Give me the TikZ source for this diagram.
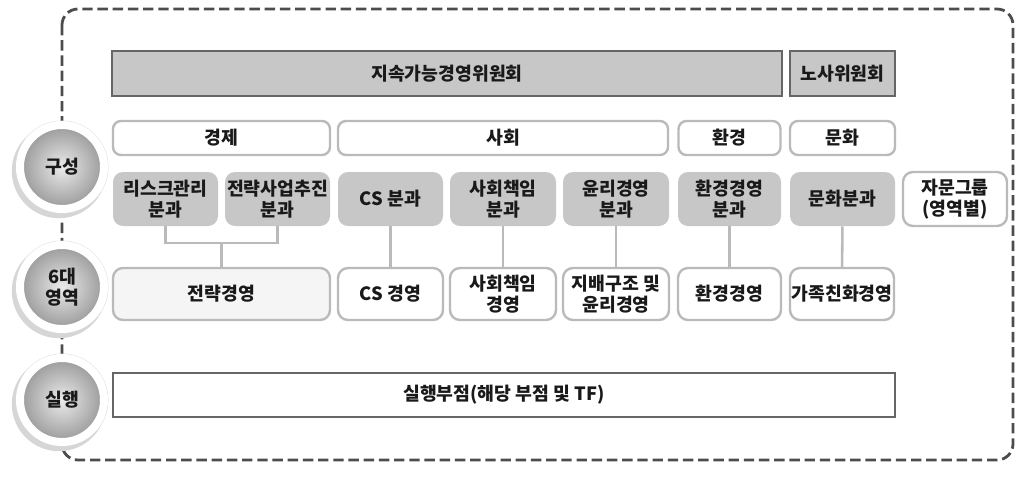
\documentclass[tikz,border=0pt]{standalone}
\usepackage{fontspec}
\setmainfont{Noto Sans CJK KR}
\usetikzlibrary{positioning}
\tikzset{
	wh/.style 2 args={minimum width=#1*0.025cm,minimum height=#2*0.025cm},
	txt/.style={font=\bfseries\fontsize{13}{15}\selectfont,align=center,inner sep=0pt,text=black!90},
	topbox/.style={txt,draw=black!60,line width=2pt,fill=black!22},
	catbox/.style={txt,draw=black!27,line width=1.7pt,fill=white,rounded corners=0.2cm},
	subbox/.style={txt,fill=black!22,rounded corners=0.25cm},
	areabox/.style={catbox,rounded corners=0.25cm},
	execbox/.style={txt,draw=black!60,line width=2pt,fill=white},
	button/.style={txt,circle,minimum size=2.1cm,draw=white,line width=0.2cm,
		shading=radial,inner color=black!8,outer color=black!40},
	link/.style={draw=black!27,line width=1.8pt},
	border/.style={draw=black!70,line width=0.07cm,dash pattern=on 0.26cm off 0.12cm,rounded corners=0.4cm}
}
\begin{document}
\begin{tikzpicture}[x=0.025cm,y=-0.025cm]
	\useasboundingbox (0,0) rectangle (1024,476);
	\draw[border] (62,9) rectangle (1013,460);
	% committees
	\node[topbox,wh={670}{45}] (gov) at (447,73.5) {지속가능경영위원회};
	\node[topbox,wh={105}{45}] (labor) at (842.5,73.5) {노사위원회};
	% fields
	\node[catbox,wh={217}{34}] (econ) at (221.5,138) {경제};
	\node[catbox,wh={330}{34}] (soc) at (503,138) {사회};
	\node[catbox,wh={102}{34}] (env) at (729.5,138) {환경};
	\node[catbox,wh={105}{34}] (cult) at (842.5,138) {문화};
	% subcommittees
	\node[subbox,wh={105}{54}] (risk) at (165.5,199) {리스크관리\\분과};
	\node[subbox,wh={105}{54}] (strat) at (277.5,199) {전략사업추진\\분과};
	\node[subbox,wh={105}{54}] (cs) at (390.5,199) {CS 분과};
	\node[subbox,wh={106}{54}] (csr) at (503,199) {사회책임\\분과};
	\node[subbox,wh={106}{54}] (eth) at (616,199) {윤리경영\\분과};
	\node[subbox,wh={103}{54}] (envc) at (729.5,199) {환경경영\\분과};
	\node[subbox,wh={105}{54}] (cultc) at (842.5,199) {문화분과};
	\node[catbox,rounded corners=0.25cm,wh={104}{54}] (adv) at (955,199) {자문그룹\\(영역별)};
	% six areas
	\node[areabox,fill=black!4,wh={217}{52}] (stratm) at (221.5,294) {전략경영};
	\node[areabox,wh={105}{52}] (csm) at (390.5,294) {CS 경영};
	\node[areabox,wh={106}{52}] (csrm) at (503,294) {사회책임\\경영};
	\node[areabox,wh={106}{52}] (ethm) at (616,294) {지배구조 및\\윤리경영};
	\node[areabox,wh={103}{52}] (envm) at (729.5,294) {환경경영};
	\node[areabox,wh={104}{52}] (fam) at (842,294) {가족친화경영};
	% execution
	\node[execbox,wh={782}{44}] (exec) at (504,395) {실행부점(해당 부점 및 TF)};
	% links
	\coordinate (j) at (221.5,243);
	\draw[link] (risk) |- (j) -| (strat);
	\draw[link] (j) -- (stratm);
	\draw[link] (cs) -- (csm);
	\draw[link] (csr) -- (csrm);
	\draw[link] (eth) -- (ethm);
	\draw[link] (envc) -- (envm);
	\draw[link] (cultc) -- (fam);
	% buttons
	\foreach \y in {167,287,400}{
		\fill[black!16] (59,\y+4) circle (1.18cm);
		\draw[black!15,line width=0.6pt] (62,\y) circle (1.15cm);
	}
	\node[button] (comp) at (62,167) {구성};
	\node[button] (area) at (62,287) {6대\\영역};
	\node[button] (run) at (62,400) {실행};
\end{tikzpicture}
\end{document}
